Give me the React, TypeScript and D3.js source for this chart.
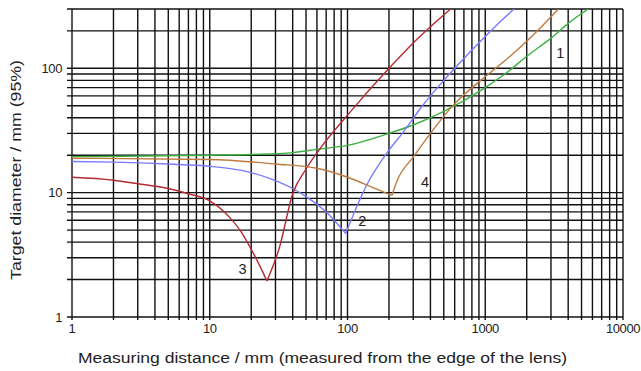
import React, { useEffect, useRef } from 'react';
import * as d3 from 'd3';

// distance (mm) -> target diameter (mm)
const curve1X = [1, 10, 20, 40, 60, 100, 200, 300, 500, 1000, 1500, 2000, 3000, 4000, 5600];
const curve1Y = [19.5, 20, 20.3, 21, 22.3, 24, 30, 35, 45, 70, 96, 125, 175, 230, 300];

const curve2X = [1, 2, 5, 10, 20, 30, 40, 50, 70, 97, 140, 200, 250, 350, 500, 700, 1000, 1300, 1620];
const curve2Y = [17.8, 17.6, 17, 16.3, 14.5, 12.5, 10.8, 9.3, 7, 4.7, 11.9, 22, 30, 50, 80, 120, 180, 240, 300];

const curve3X = [1, 2, 3, 5, 7, 10, 14, 17, 20, 23, 26, 32, 40, 50, 64, 100, 200, 300, 560];
const curve3Y = [13.3, 12.6, 11.8, 10.8, 9.8, 8.6, 6.3, 4.8, 3.5, 2.6, 1.95, 3.6, 9.8, 15.5, 23, 42, 100, 160, 300];

const curve4X = [1, 10, 30, 60, 100, 150, 210, 230, 300, 400, 600, 927, 1400, 2000, 3400];
const curve4Y = [18.9, 18.5, 17, 15.7, 13.3, 11.1, 9.5, 12.6, 19.3, 30, 52, 80, 116, 165, 300];

const curveNames = ['1', '2', '3', '4'];
const curveColors = ['#3cb043', '#7a7aff', '#b52a30', '#c07a3e'];
// label anchor points in data units
const labelX = [3500, 128, 17.3, 365];
const labelY = [120, 5.4, 2.2, 11.1];

const xTicks = [1, 10, 100, 1000, 10000];
const yTicks = [1, 10, 100];

const W = 641;
const H = 371;

const App = () => {
  const ref = useRef<SVGSVGElement>(null);

  useEffect(() => {
    if (!ref.current) return;
    const svg = d3.select(ref.current);
    svg.selectAll('*').remove();

    const left = 72, right = 623, top = 9, bottom = 317;
    const x = d3.scaleLog().domain([1, 10000]).range([left, right]);
    const y = d3.scaleLog().domain([1, 300]).range([bottom, top]);

    const font = "'Liberation Sans', Arial, sans-serif";

    // grid: every 1..9 of each decade
    const xGrid: number[] = [];
    for (let e = 0; e < 4; e++) for (let m = 1; m < 10; m++) xGrid.push(m * 10 ** e);
    xGrid.push(10000);
    const yGrid: number[] = [];
    for (let e = 0; e < 3; e++) for (let m = 1; m < 10; m++) {
      const v = m * 10 ** e;
      if (v <= 300) yGrid.push(v);
    }

    const grid = svg.append('g').attr('stroke', '#111').attr('stroke-width', 1.4);
    grid.selectAll('line.v').data(xGrid).enter().append('line')
      .attr('x1', d => x(d)).attr('x2', d => x(d))
      .attr('y1', top).attr('y2', bottom + 3);
    grid.selectAll('line.h').data(yGrid).enter().append('line')
      .attr('y1', d => y(d)).attr('y2', d => y(d))
      .attr('x1', left - 5).attr('x2', right);

    svg.append('defs').append('clipPath').attr('id', 'plot')
      .append('rect').attr('x', left).attr('y', top).attr('width', right - left).attr('height', bottom - top);

    const allX = [curve1X, curve2X, curve3X, curve4X];
    const allY = [curve1Y, curve2Y, curve3Y, curve4Y];

    const line = d3.line<[number, number]>()
      .x(d => x(d[0]))
      .y(d => y(d[1]))
      .curve(d3.curveMonotoneX);

    const curves = svg.append('g').attr('clip-path', 'url(#plot)');
    allX.forEach((xs, i) => {
      const pts: [number, number][] = xs.map((v, j) => [v, allY[i][j]]);
      // split at the minimum so the V stays sharp
      const k = d3.minIndex(pts, d => d[1]);
      const parts = [pts.slice(0, k + 1), pts.slice(k)].filter(p => p.length > 1);
      parts.forEach(p => {
        curves.append('path')
          .attr('d', line(p))
          .attr('fill', 'none')
          .attr('stroke', curveColors[i])
          .attr('stroke-width', 1.4);
      });
    });

    svg.append('g').selectAll('text').data(curveNames).enter().append('text')
      .attr('x', (d, i) => x(labelX[i]))
      .attr('y', (d, i) => y(labelY[i]))
      .attr('text-anchor', 'middle')
      .attr('font-family', font)
      .attr('font-size', 14.5)
      .attr('fill', '#222')
      .text(d => d);

    svg.append('g').selectAll('text').data(xTicks).enter().append('text')
      .attr('x', d => x(d))
      .attr('y', bottom + 16)
      .attr('text-anchor', 'middle')
      .attr('font-family', font)
      .attr('font-size', 13)
      .attr('letter-spacing', -0.4)
      .attr('fill', '#222')
      .text(d => String(d));

    svg.append('g').selectAll('text').data(yTicks).enter().append('text')
      .attr('x', left - 10)
      .attr('y', d => y(d) + 4.5)
      .attr('text-anchor', 'end')
      .attr('font-family', font)
      .attr('font-size', 13)
      .attr('letter-spacing', -0.4)
      .attr('fill', '#222')
      .text(d => String(d));

    svg.append('text')
      .attr('x', 78)
      .attr('y', 363)
      .attr('textLength', 489)
      .attr('lengthAdjust', 'spacingAndGlyphs')
      .attr('font-family', font)
      .attr('font-size', 15.5)
      .attr('fill', '#222')
      .text('Measuring distance / mm (measured from the edge of the lens)');

    svg.append('text')
      .attr('transform', 'translate(21,280) rotate(-90)')
      .attr('textLength', 220)
      .attr('lengthAdjust', 'spacingAndGlyphs')
      .attr('font-family', font)
      .attr('font-size', 15.5)
      .attr('fill', '#222')
      .text('Target diameter / mm (95%)');
  }, []);

  return (
    <svg
      ref={ref}
      width={W}
      height={H}
      style={{ position: 'absolute', left: 0, top: 0, background: '#fff' }}
    />
  );
};

export default App;
